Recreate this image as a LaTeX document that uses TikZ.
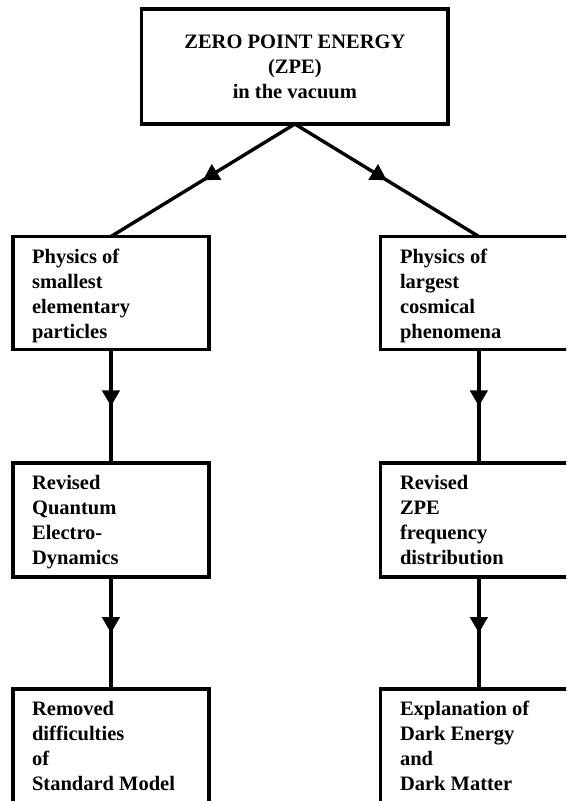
\documentclass[tikz,border=0pt]{standalone}
\usepackage{fontspec}
\setmainfont{Liberation Serif}
\usetikzlibrary{arrows.meta,decorations.markings}
\newcommand\bxtext[2]{\parbox[c][#1][t]{196.3pt}{\raggedright\leftskip=19.3pt\fontsize{20.5pt}{25pt}\selectfont\bfseries\rule{0pt}{26.8pt}#2}}
\newcommand\toptext[1]{\parbox[c][115pt][t]{306.3pt}{\centering\fontsize{20.5pt}{25pt}\selectfont\bfseries\rule{0pt}{39pt}#1}}
\tikzset{
  bx/.style={draw, line width=3.4pt, inner sep=0pt, outer sep=0pt, anchor=north west},
  conn/.style={line width=3.4pt, postaction={decorate},
    decoration={markings, mark=at position #1 with {\arrow{Triangle[width=17.5pt,length=16pt]}}}},
  conn/.default=0.5
}
\begin{document}
\begin{tikzpicture}[x=1pt,y=1pt]
\useasboundingbox (0,0) rectangle (566,-801);
\clip (0,0) rectangle (566,-801);
\node[bx] (top) at (141.7,-9) {\toptext{ZERO POINT ENERGY\\(ZPE)\\in the vacuum}};
\node[bx] (l1) at (12.8,-236.5) {\bxtext{113pt}{Physics of\\smallest\\elementary\\particles}};
\node[bx] (r1) at (380.7,-236.5) {\bxtext{113pt}{Physics of\\largest\\cosmical\\phenomena}};
\node[bx] (l2) at (12.8,-463) {\bxtext{114pt}{Revised\\Quantum\\Electro-\\Dynamics}};
\node[bx] (r2) at (380.7,-463) {\bxtext{114pt}{Revised\\ZPE\\frequency\\distribution}};
\node[bx] (l3) at (12.8,-689) {\bxtext{140pt}{Removed\\difficulties\\of\\Standard Model}};
\node[bx] (r3) at (380.7,-689) {\bxtext{140pt}{Explanation of\\Dark Energy\\and\\Dark Matter}};
\draw[conn] (top.south) -- (l1.north);
\draw[conn] (top.south) -- (r1.north);
\draw[conn] (l1.south) -- (l2.north);
\draw[conn] (r1.south) -- (r2.north);
\draw[conn] (l2.south) -- (l3.north);
\draw[conn] (r2.south) -- (r3.north);
\end{tikzpicture}
\end{document}
